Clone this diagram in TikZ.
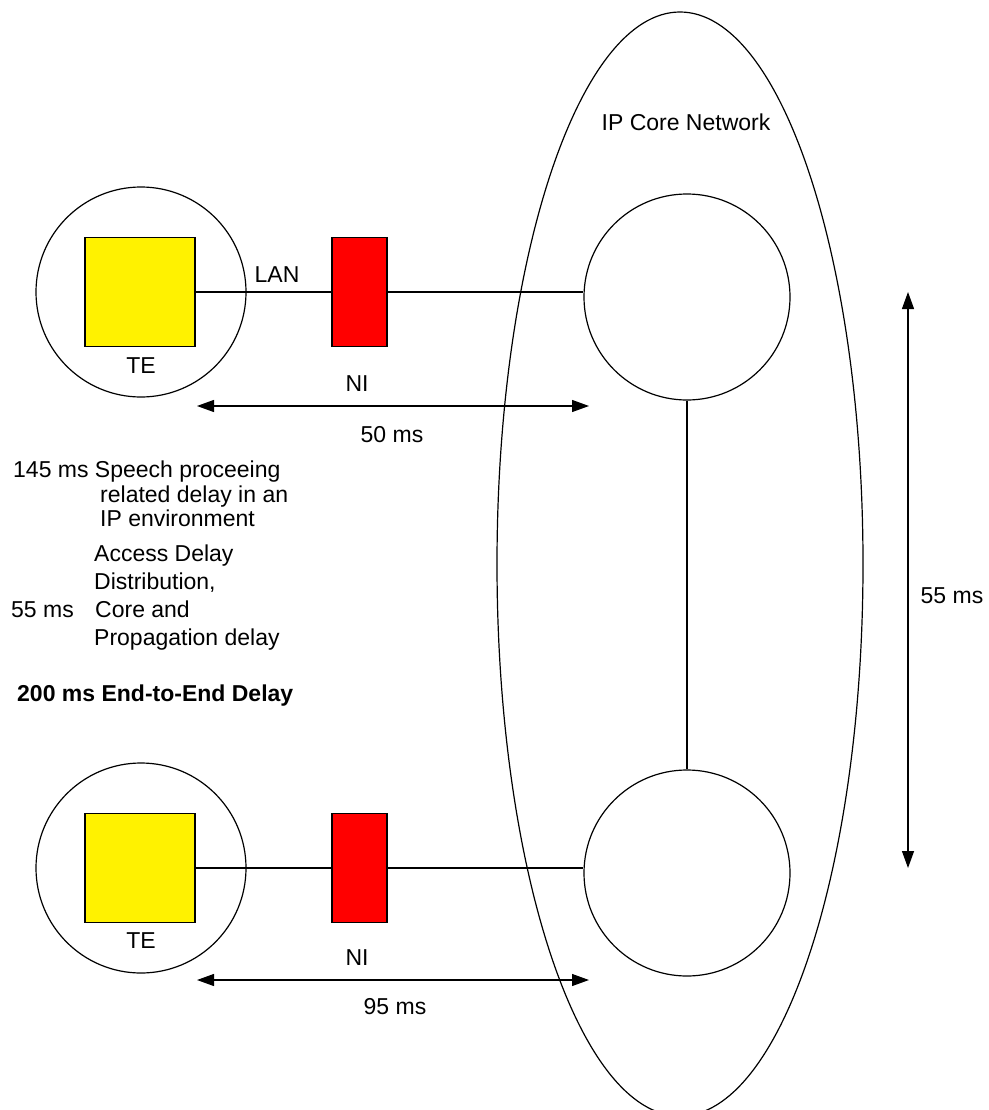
\documentclass[tikz,border=0pt]{standalone}
\usepackage{fontspec}
\setmainfont{Liberation Sans}
\usetikzlibrary{shapes.geometric,arrows.meta}
\begin{document}
\begin{tikzpicture}[x=1pt,y=-1pt,
  every node/.style={font=\fontsize{23}{25}\selectfont, inner sep=0pt},
  ln/.style={line width=1.2pt},
  ring/.style={circle, draw, line width=1.2pt},
  te/.style={draw, line width=1.2pt, fill=yellow, minimum width=110pt, minimum height=109pt},
  nibox/.style={draw, line width=1.2pt, fill=red, minimum width=55pt, minimum height=109pt},
  dim/.style={line width=1.2pt, {Triangle[length=17pt,width=12pt]}-{Triangle[length=17pt,width=12pt]}},
  txt/.style={anchor=base west}]
\useasboundingbox (0,0) rectangle (988,1110);
% core network
\node[ellipse, draw, line width=1.2pt, minimum width=366pt, minimum height=1104pt] (core) at (680,564) {};
\node (corelbl) at (686,122) {IP Core Network};
% right circles
\node[ring, minimum size=206pt] (rc1) at (687,297) {};
\node[ring, minimum size=206pt] (rc2) at (687,873) {};
\draw[ln] (rc1.south) -- (rc2.north);
% top left
\node[ring, minimum size=210pt] (lc1) at (141,292) {};
\node[te] (te1) at (140,292) {};
\node[nibox] (ni1) at (359.5,292) {};
\node (telbl1) at (141,366) {TE};
\node (nilbl1) at (357,384) {NI};
\node (lan) at (277,275) {LAN};
\draw[ln] (te1.east) -- (ni1.west);
\draw[ln] (ni1.east) -- (ni1.east -| rc1.west);
% bottom left
\node[ring, minimum size=210pt] (lc2) at (141,868) {};
\node[te] (te2) at (140,868) {};
\node[nibox] (ni2) at (359.5,868) {};
\node (telbl2) at (141,941) {TE};
\node (nilbl2) at (357,958) {NI};
\draw[ln] (te2.east) -- (ni2.west);
\draw[ln] (ni2.east) -- (ni2.east -| rc2.west);
% dimension arrows
\coordinate (a1) at (197,406);
\coordinate (b1) at (589,406);
\draw[dim] (a1) -- (b1);
\node (d50) at (392,435) {50 ms};
\coordinate (a2) at (197,980);
\coordinate (b2) at (589,980);
\draw[dim] (a2) -- (b2);
\node (d95) at (395,1007) {95 ms};
\coordinate (a3) at (908,292);
\coordinate (b3) at (908,868);
\draw[dim] (a3) -- (b3);
\node (d55) at (952,596) {55 ms};
% text block
\node[txt] (t1) at (13,477) {145 ms Speech proceeing};
\node[txt] (t2) at (100,502) {related delay in an};
\node[txt] (t3) at (100,526) {IP environment};
\node[txt] (t4) at (94,561) {Access Delay};
\node[txt] (t5) at (94,589) {Distribution,};
\node[txt] (t6a) at (11,617) {55 ms};
\node[txt] (t6) at (95,617) {Core and};
\node[txt] (t7) at (94,645) {Propagation delay};
\node[txt, font=\fontsize{23}{25}\selectfont\bfseries] (t8) at (17,701) {200 ms End-to-End Delay};
\end{tikzpicture}
\end{document}
